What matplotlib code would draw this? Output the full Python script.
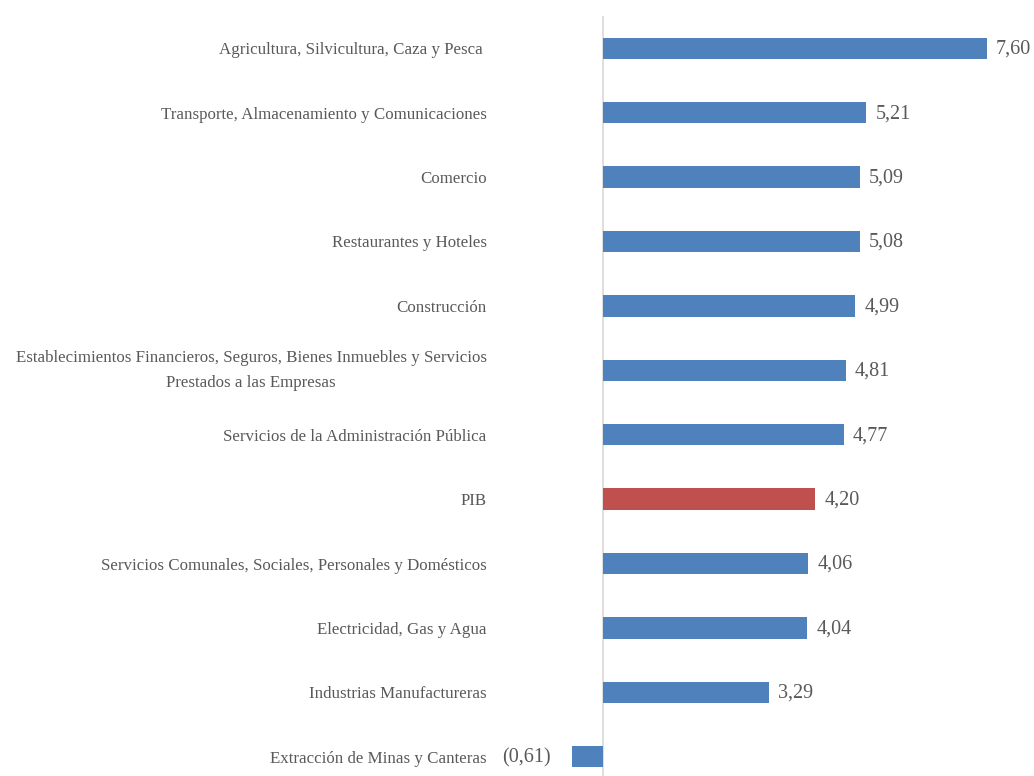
import matplotlib
matplotlib.use("Agg")
import matplotlib.pyplot as plt
from matplotlib.transforms import offset_copy

# Sectors, top to bottom
sectores = [
    "Agricultura, Silvicultura, Caza y Pesca ",
    "Transporte, Almacenamiento y Comunicaciones",
    "Comercio",
    "Restaurantes y Hoteles",
    "Construcción",
    "Establecimientos Financieros, Seguros, Bienes Inmuebles y Servicios\nPrestados a las Empresas",
    "Servicios de la Administración Pública",
    "PIB",
    "Servicios Comunales, Sociales, Personales y Domésticos",
    "Electricidad, Gas y Agua",
    "Industrias Manufactureras",
    "Extracción de Minas y Canteras",
]
crecimiento = [7.60, 5.21, 5.09, 5.08, 4.99, 4.81, 4.77, 4.20, 4.06, 4.04, 3.29, -0.61]

AZUL = "#4F81BD"
ROJO = "#C0504D"
GRIS_TEXTO = "#595959"

plt.rcParams["font.family"] = ["Liberation Serif", "DejaVu Serif"]

W, H = 1034, 776
fig = plt.figure(figsize=(W / 100, H / 100), dpi=100)
ax_left, ax_top, ax_bottom = 495, 16, 789
ax = fig.add_axes([ax_left / W, (H - ax_bottom) / H,
                   (W - ax_left) / W, (ax_bottom - ax_top) / H])

posiciones = list(range(len(sectores)))
colores = [ROJO if s == "PIB" else AZUL for s in sectores]
ax.barh(posiciones, crecimiento, height=0.33, color=colores, zorder=2)

ax.set_ylim(len(sectores) - 0.5, -0.5)
ax.set_xlim(-2.14, 8.53)
ax.axvline(0, color="#D9D9D9", lw=1.2, zorder=1)

ax.set_yticks(posiciones)
ax.set_yticklabels(sectores, fontsize=12.2, color=GRIS_TEXTO,
                   multialignment="center", linespacing=1.75)
ax.tick_params(axis="y", length=0, pad=6)
ax.set_xticks([])
for s in ax.spines.values():
    s.set_visible(False)
# keep the two-line label centred on its bar
for lbl in ax.get_yticklabels():
    if "\n" in lbl.get_text():
        lbl.set_va("center")


def formato(v):
    txt = f"{abs(v):.2f}".replace(".", ",")
    return f"({txt})" if v < 0 else txt


for y, v in zip(posiciones, crecimiento):
    if v >= 0:
        tr = offset_copy(ax.transData, fig=fig, x=9, y=-1, units="dots")
        ax.text(v, y, formato(v), transform=tr, ha="left", va="center",
                fontsize=14.5, color=GRIS_TEXTO)
    else:
        tr = offset_copy(ax.transData, fig=fig, x=-22, y=-1, units="dots")
        ax.text(v, y, formato(v), transform=tr, ha="right", va="center",
                fontsize=14.5, color=GRIS_TEXTO)

fig.savefig("out.png", dpi=100, facecolor="white")
